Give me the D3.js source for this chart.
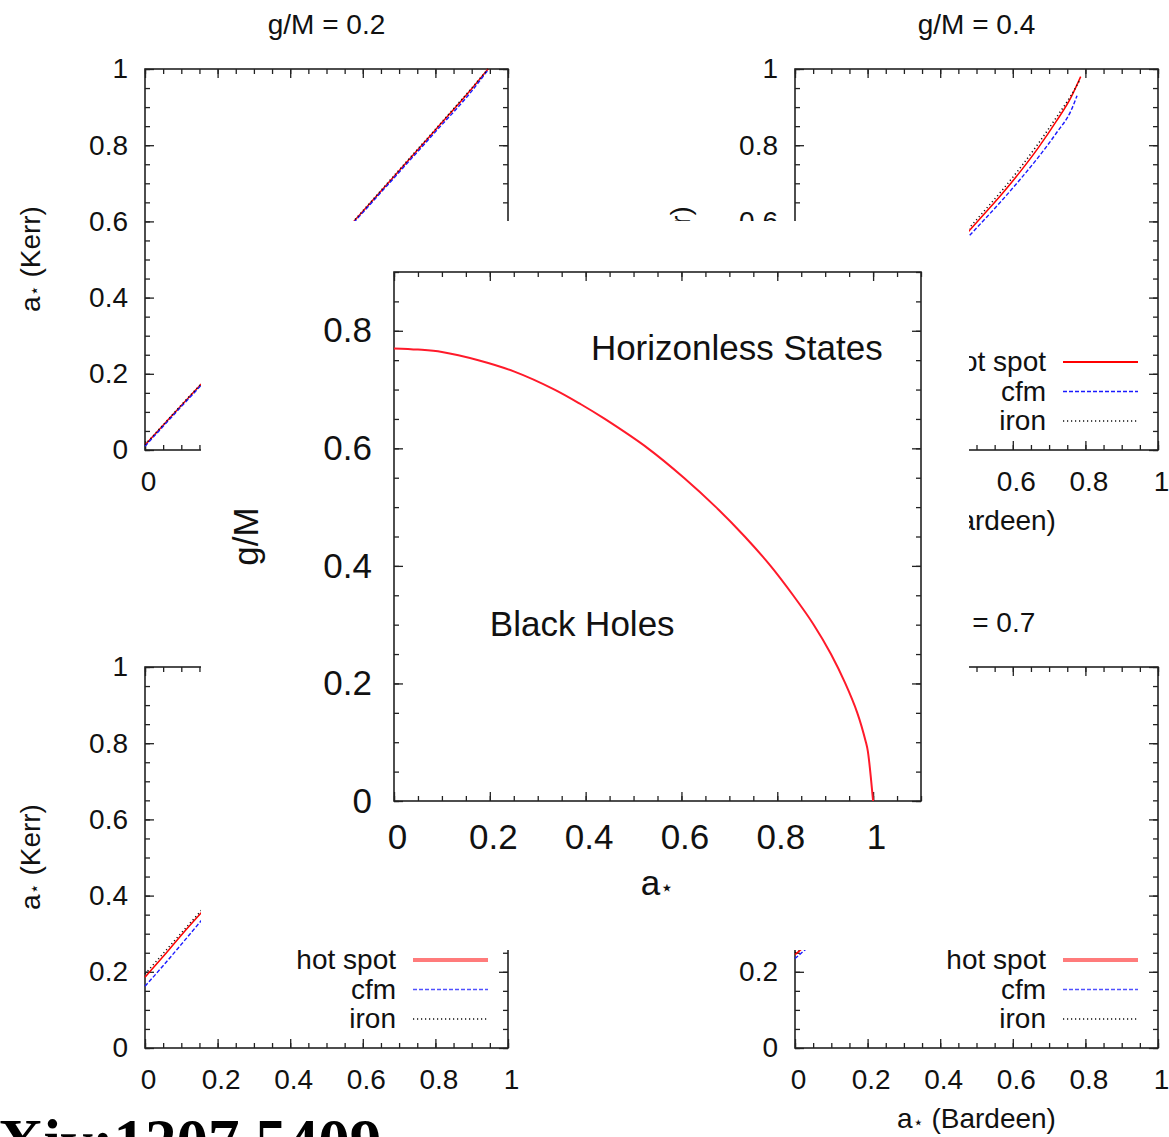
<!DOCTYPE html>
<html>
<head>
<meta charset="utf-8">
<script src="https://cdn.jsdelivr.net/npm/d3@7"></script>
<style>
  body { margin: 0; background: #fff; }
  svg { display: block; font-family: "Liberation Sans", Arial, sans-serif; }
</style>
</head>
<body>
<div id="chart"></div>
<script>
// ---- data ----
const panelTitles = ["g/M = 0.2", "g/M = 0.4", null, "g/M = 0.7"];
const legendLabels = ["hot spot", "cfm", "iron"];
const smallTicks = [0, 0.2, 0.4, 0.6, 0.8, 1];
const bigTicksX = [0, 0.2, 0.4, 0.6, 0.8, 1];
const bigTicksY = [0, 0.2, 0.4, 0.6, 0.8];

// [a* (Bardeen), a* (Kerr)]
const g02HotSpot = [[0, 0.013], [0.05, 0.065], [0.10, 0.117], [0.152, 0.170], [0.30, 0.32], [0.45, 0.47], [0.575, 0.600], [0.70, 0.733], [0.80, 0.84], [0.90, 0.948], [0.945, 1.0]];
const g02Cfm     = [[0, 0.010], [0.05, 0.062], [0.10, 0.114], [0.152, 0.167], [0.30, 0.317], [0.45, 0.467], [0.575, 0.597], [0.70, 0.729], [0.80, 0.835], [0.90, 0.942], [0.943, 0.995]];
const g02Iron    = [[0, 0.014], [0.05, 0.066], [0.10, 0.118], [0.152, 0.171], [0.30, 0.321], [0.45, 0.471], [0.575, 0.601], [0.70, 0.735], [0.80, 0.842], [0.90, 0.950], [0.945, 1.0]];

const g04HotSpot = [[0.47, 0.565], [0.52, 0.618], [0.57, 0.672], [0.62, 0.730], [0.67, 0.793], [0.72, 0.863], [0.76, 0.925], [0.787, 0.980]];
const g04Cfm     = [[0.47, 0.552], [0.52, 0.603], [0.57, 0.655], [0.62, 0.710], [0.67, 0.768], [0.72, 0.832], [0.76, 0.890], [0.777, 0.930]];
const g04Iron    = [[0.47, 0.572], [0.52, 0.626], [0.57, 0.681], [0.62, 0.740], [0.67, 0.804], [0.72, 0.873], [0.76, 0.930], [0.785, 0.972]];

const g06HotSpot = [[0, 0.186], [0.05, 0.240], [0.10, 0.296], [0.16, 0.360]];
const g06Cfm     = [[0, 0.162], [0.05, 0.216], [0.10, 0.272], [0.16, 0.340]];
const g06Iron    = [[0, 0.194], [0.05, 0.248], [0.10, 0.302], [0.16, 0.366]];

const g07HotSpot = [[0, 0.245], [0.03, 0.270], [0.06, 0.300]];
const g07Cfm     = [[0, 0.235], [0.03, 0.260], [0.06, 0.290]];
const g07Iron    = [[0, 0.250], [0.03, 0.275], [0.06, 0.305]];

// boundary between black holes and horizonless states [a*, g/M]
const boundary = [[0, 0.770], [0.05, 0.768], [0.10, 0.764], [0.176, 0.750], [0.25, 0.731], [0.335, 0.700],
  [0.39, 0.675], [0.44, 0.650], [0.53, 0.600], [0.605, 0.550], [0.672, 0.500], [0.732, 0.450],
  [0.786, 0.400], [0.833, 0.350], [0.876, 0.300], [0.912, 0.250], [0.942, 0.200], [0.967, 0.150],
  [0.985, 0.100], [0.989, 0.085], [1.0, 0.0]];

let width = 1169,
    height = 1137,
    card = ({ x: 201, y: 221, w: 768, h: 729 }); // white card under the big inset

const svg = d3.select("#chart")
  .append("svg")
  .attr("width", width)
  .attr("height", height);

svg.append("rect").attr("width", width).attr("height", height).attr("fill", "#fff");

// ticks on all four sides, pointing in, minor every 0.05
function frameAxes(g, x, y, xMajor, yMajor, fontSize, padX, padY) {
  let [x0, x1] = x.range(), [y0, y1] = y.range();
  let minorX = d3.range(x.domain()[0], x.domain()[1] + 1e-9, 0.05);
  let minorY = d3.range(y.domain()[0], y.domain()[1] + 1e-9, 0.05);
  let fmt = d => d3.format("")(+d.toFixed(2));

  let sides = [
    { axis: d3.axisBottom, scale: x, at: `translate(0,${y0})`, major: xMajor, minor: minorX, labels: true, pad: padX },
    { axis: d3.axisTop,    scale: x, at: `translate(0,${y1})`, major: xMajor, minor: minorX, labels: false },
    { axis: d3.axisLeft,   scale: y, at: `translate(${x0},0)`, major: yMajor, minor: minorY, labels: true, pad: padY },
    { axis: d3.axisRight,  scale: y, at: `translate(${x1},0)`, major: yMajor, minor: minorY, labels: false }
  ];

  sides.forEach((s, i) => {
    g.append("g")
      .attr("transform", s.at)
      .call(s.axis(s.scale).tickValues(s.minor).tickSize(-5).tickFormat(""))
      .call(a => a.select(".domain").remove())
      .selectAll("line").attr("stroke", "#222").attr("stroke-width", 1.3);

    let ax = g.append("g")
      .attr("transform", s.at)
      .call(s.axis(s.scale).tickValues(s.major).tickSizeInner(-9).tickSizeOuter(0)
        .tickPadding(s.pad || 3).tickFormat(s.labels ? fmt : ""))
      .call(a => a.select(".domain").remove());
    ax.selectAll("line").attr("stroke", "#222").attr("stroke-width", 1.3);
    ax.selectAll("text")
      .attr("font-family", "'Liberation Sans', Arial, sans-serif")
      .attr("font-size", fontSize)
      .attr("fill", "#111");
    if (i === 0) ax.selectAll("text").attr("dx", 3); // gnuplot puts them a touch right
  });

  g.append("rect")
    .attr("x", x0).attr("y", y1)
    .attr("width", x1 - x0).attr("height", y0 - y1)
    .attr("fill", "none")
    .attr("stroke", "#222")
    .attr("stroke-width", 1.6);
}

function starLabel(t, base, rest, size) {
  t.append("tspan").text(base);
  t.append("tspan").text("⋆").attr("font-size", size * 0.62);
  if (rest) t.append("tspan").text(rest);
}

const lineStyles = [
  { color: "#ff0000", dash: null, w: 1.5 },
  { color: "#1a1aff", dash: "4,2", w: 1.4 },
  { color: "#111", dash: "1.2,2.8", w: 1.5 }
];

let panels = [
  { left: 145, top: 69,  title: panelTitles[0], series: [g02HotSpot, g02Cfm, g02Iron], thick: false, xLabel: true },
  { left: 795, top: 69,  title: panelTitles[1], series: [g04HotSpot, g04Cfm, g04Iron], thick: false, xLabel: true },
  { left: 145, top: 667, title: panelTitles[2], series: [g06HotSpot, g06Cfm, g06Iron], thick: true,  xLabel: false },
  { left: 795, top: 667, title: panelTitles[3], series: [g07HotSpot, g07Cfm, g07Iron], thick: true,  xLabel: true }
];

for (let p of panels) {
  let g = svg.append("g").attr("class", "panel");
  let fs = 28;

  let x = d3.scaleLinear().domain([0, 1]).range([p.left, p.left + 363]);
  let y = d3.scaleLinear().domain([0, 1]).range([p.top + 381, p.top]);

  frameAxes(g, x, y, smallTicks, smallTicks, fs, 21, 17);

  let line = d3.line()
    .x(d => x(d[0]))
    .y(d => y(d[1]))
    .curve(d3.curveMonotoneX);

  p.series.forEach((s, i) => {
    g.append("path")
      .datum(s)
      .attr("fill", "none")
      .attr("stroke", lineStyles[i].color)
      .attr("stroke-width", lineStyles[i].w)
      .attr("stroke-dasharray", lineStyles[i].dash)
      .attr("d", line);
  });

  // legend
  legendLabels.forEach((label, i) => {
    let ly = p.top + 293 + i * 29.5;
    g.append("text")
      .text(label)
      .attr("x", p.left + 251)
      .attr("y", ly + 9)
      .attr("text-anchor", "end")
      .attr("font-size", fs)
      .attr("fill", "#111");
    let st = lineStyles[i];
    g.append("line")
      .attr("x1", p.left + 268).attr("x2", p.left + 343)
      .attr("y1", ly).attr("y2", ly)
      .attr("stroke", p.thick && i === 0 ? "#ff7b7b" : (p.thick && i === 1 ? "#5050ff" : st.color))
      .attr("stroke-width", p.thick && i === 0 ? 4 : (i === 0 ? 1.8 : 1.5))
      .attr("stroke-dasharray", st.dash);
  });

  if (p.title) {
    g.append("text")
      .text(p.title)
      .attr("x", p.left + 181.5)
      .attr("y", p.top - 35)
      .attr("text-anchor", "middle")
      .attr("font-size", fs)
      .attr("fill", "#111");
  }

  if (p.xLabel) {
    let xl = g.append("text")
      .attr("x", p.left + 181.5)
      .attr("y", p.top + 381 + 80)
      .attr("text-anchor", "middle")
      .attr("font-size", fs)
      .attr("fill", "#111");
    starLabel(xl, "a", " (Bardeen)", fs);
  }

  let yl = g.append("text")
    .attr("transform", `translate(${p.left - 105},${p.top + 190}) rotate(-90)`)
    .attr("text-anchor", "middle")
    .attr("font-size", fs)
    .attr("fill", "#111");
  starLabel(yl, "a", " (Kerr)", fs);
}

// texts that end up completely under the card are never seen, drop them
svg.selectAll(".panel text").each(function () {
  let r = this.getBoundingClientRect();
  if (r.left >= card.x && r.right <= card.x + card.w && r.top >= card.y && r.bottom <= card.y + card.h) {
    d3.select(this).remove();
  }
});

svg.append("rect")
  .attr("x", card.x).attr("y", card.y)
  .attr("width", card.w).attr("height", card.h)
  .attr("fill", "#fff");

// ---- central panel ----
let cx = d3.scaleLinear().domain([0, 1.1]).range([394, 921]);
let cy = d3.scaleLinear().domain([0, 0.9]).range([801, 272]);
let center = svg.append("g").attr("class", "center");

frameAxes(center, cx, cy, bigTicksX, bigTicksY, 35, 23, 22);

center.append("path")
  .datum(boundary)
  .attr("fill", "none")
  .attr("stroke", "#ff1a2a")
  .attr("stroke-width", 2)
  .attr("d", d3.line().x(d => cx(d[0])).y(d => cy(d[1])).curve(d3.curveCatmullRom.alpha(0.5)));

center.append("text")
  .text("Horizonless States")
  .attr("x", cx(1.02))
  .attr("y", cy(0.75))
  .attr("text-anchor", "end")
  .attr("font-size", 35)
  .attr("fill", "#111");

center.append("text")
  .text("Black Holes")
  .attr("x", cx(0.2))
  .attr("y", cy(0.281))
  .attr("font-size", 35)
  .attr("fill", "#111");

let cxl = center.append("text")
  .attr("x", (394 + 921) / 2)
  .attr("y", 895)
  .attr("text-anchor", "middle")
  .attr("font-size", 35)
  .attr("fill", "#111");
starLabel(cxl, "a", null, 35);

center.append("text")
  .text("g/M")
  .attr("transform", `translate(258,${(272 + 801) / 2}) rotate(-90)`)
  .attr("text-anchor", "middle")
  .attr("font-size", 35)
  .attr("fill", "#111");

// arXiv stamp, cut off by the page edge
let stamp = svg.append("text")
  .text("arXiv:1207.5409")
  .attr("y", 1163)
  .attr("font-family", "'Liberation Serif', 'Times New Roman', serif")
  .attr("font-weight", "bold")
  .attr("font-size", 63)
  .attr("fill", "#000");

let probe = svg.append("text")
  .text("ar")
  .attr("font-family", "'Liberation Serif', 'Times New Roman', serif")
  .attr("font-weight", "bold")
  .attr("font-size", 63);
let arWidth = probe.node().getComputedTextLength();
probe.remove();
stamp.attr("x", -2 - arWidth);
</script>
</body>
</html>
